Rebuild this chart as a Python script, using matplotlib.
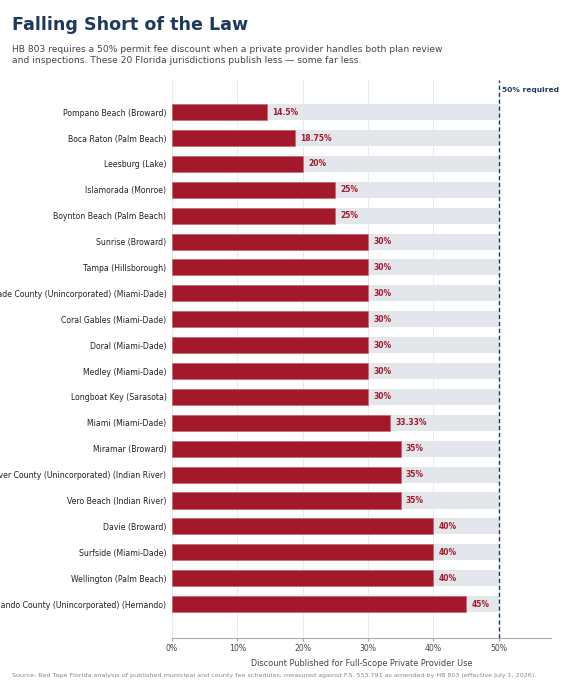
import matplotlib.pyplot as plt
import numpy as np

# Data
jurisdictions = [
    "Pompano Beach (Broward)",
    "Boca Raton (Palm Beach)",
    "Leesburg (Lake)",
    "Islamorada (Monroe)",
    "Boynton Beach (Palm Beach)",
    "Sunrise (Broward)",
    "Tampa (Hillsborough)",
    "Miami-Dade County (Unincorporated) (Miami-Dade)",
    "Coral Gables (Miami-Dade)",
    "Doral (Miami-Dade)",
    "Medley (Miami-Dade)",
    "Longboat Key (Sarasota)",
    "Miami (Miami-Dade)",
    "Miramar (Broward)",
    "Indian River County (Unincorporated) (Indian River)",
    "Vero Beach (Indian River)",
    "Davie (Broward)",
    "Surfside (Miami-Dade)",
    "Wellington (Palm Beach)",
    "Hernando County (Unincorporated) (Hernando)",
]
discounts = [14.5, 18.75, 20, 25, 25, 30, 30, 30, 30, 30, 30, 30, 33.33, 35, 35, 35, 40, 40, 40, 45]
value_labels = ["14.5%", "18.75%", "20%", "25%", "25%", "30%", "30%", "30%", "30%", "30%",
                "30%", "30%", "33.33%", "35%", "35%", "35%", "40%", "40%", "40%", "45%"]
required = 50
xticks = [0, 10, 20, 30, 40, 50]

navy = "#1d3a5c"
red = "#a3192b"
track = "#e3e7eb"

fig = plt.figure(figsize=(5.76, 6.9), dpi=100)
ax = fig.add_axes([172 / 576, 1 - 638 / 690, (551 - 172) / 576, (638 - 80) / 690])

y = np.arange(len(jurisdictions))
ax.barh(y, [required] * len(y), height=0.62, color=track, zorder=1)
ax.barh(y, discounts, height=0.62, color=red, edgecolor="#c7606c", linewidth=0.4, zorder=2)
for yi, v, lab in zip(y, discounts, value_labels):
    ax.text(v + 0.8, yi, lab, va="center", ha="left", fontsize=5.5, fontweight="bold", color=red, zorder=3)

ax.axvline(required, color=navy, linestyle=(0, (3, 2)), linewidth=1.0, zorder=4)
ax.text(required + 0.5, -0.85, "50% required", fontsize=5.4, fontweight="bold", color=navy, va="center", ha="left")

ax.set_ylim(len(y) - 1 + 1.31, -1.24)
ax.set_xlim(0, 58)
ax.set_yticks(y)
ax.set_yticklabels(jurisdictions, fontsize=5.6, color="#222222")
ax.set_xticks(xticks)
ax.set_xticklabels([f"{t}%" for t in xticks], fontsize=5.6, color="#444444")
ax.tick_params(axis="y", length=0, pad=4)
ax.tick_params(axis="x", length=2, color="#aaaaaa", pad=2)
ax.grid(axis="x", color="#e8e8e8", linewidth=0.6, zorder=0)
ax.set_axisbelow(True)
for s in ["top", "right", "left"]:
    ax.spines[s].set_visible(False)
ax.spines["bottom"].set_color("#aaaaaa")
ax.spines["bottom"].set_linewidth(0.8)
ax.set_xlabel("Discount Published for Full-Scope Private Provider Use", fontsize=5.9, color="#444444")
ax.xaxis.set_label_coords(0.5, -0.038)

fig.text(12 / 576, 1 - 25 / 690, "Falling Short of the Law", fontsize=12.6, fontweight="bold", color=navy, va="center")
fig.text(12 / 576, 1 - 55 / 690,
         "HB 803 requires a 50% permit fee discount when a private provider handles both plan review\n"
         "and inspections. These 20 Florida jurisdictions publish less \u2014 some far less.",
         fontsize=6.6, color="#444444", va="center", linespacing=1.4)
fig.text(12 / 576, 1 - 675 / 690,
         "Source: Red Tape Florida analysis of published municipal and county fee schedules, measured against F.S. 553.791 as amended by HB 803 (effective July 1, 2026).",
         fontsize=4.6, color="#888888", va="center")

fig.savefig("out.png", dpi=100)
